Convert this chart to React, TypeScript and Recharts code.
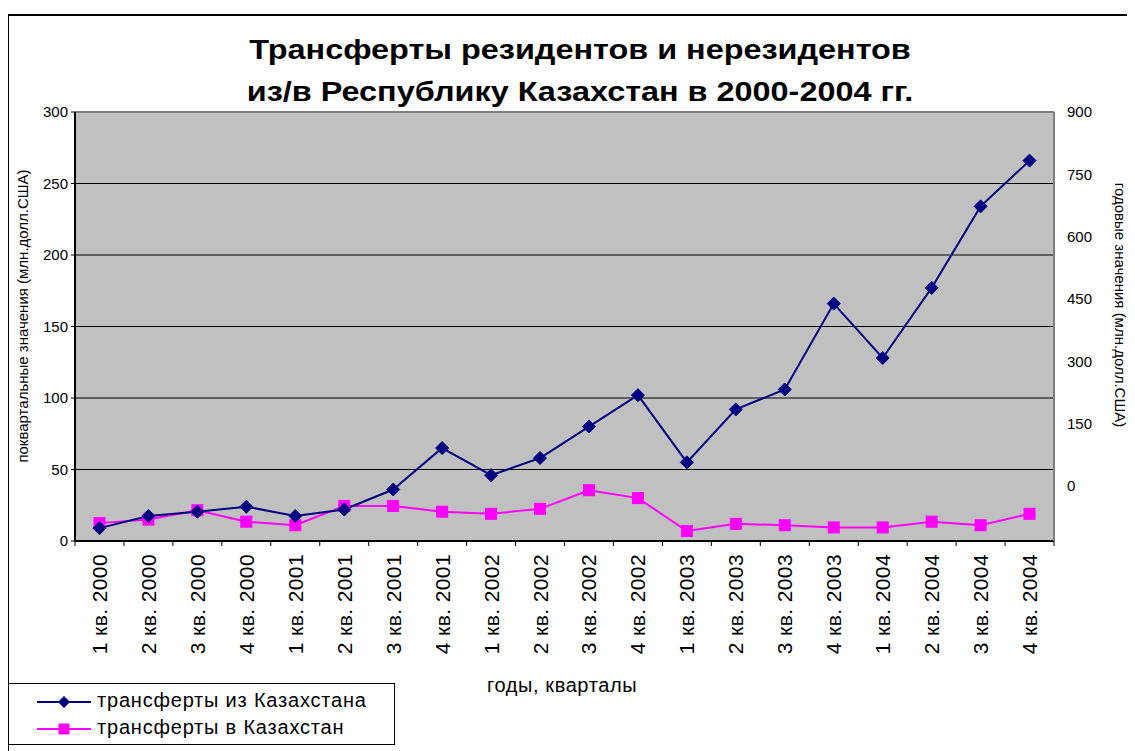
import React from 'react';
import {
  LineChart,
  Line,
  XAxis,
  YAxis,
  CartesianGrid,
  ReferenceLine,
} from 'recharts';

const quarters = [
  '1 кв. 2000', '2 кв. 2000', '3 кв. 2000', '4 кв. 2000',
  '1 кв. 2001', '2 кв. 2001', '3 кв. 2001', '4 кв. 2001',
  '1 кв. 2002', '2 кв. 2002', '3 кв. 2002', '4 кв. 2002',
  '1 кв. 2003', '2 кв. 2003', '3 кв. 2003', '4 кв. 2003',
  '1 кв. 2004', '2 кв. 2004', '3 кв. 2004', '4 кв. 2004',
];

// трансферты из Казахстана (млн.долл.США)
const transfersOut = [9, 17.5, 20.5, 24, 17.5, 22, 36, 65, 46, 58, 80, 102, 55, 92, 106, 166, 128, 177, 234, 266];
// трансферты в Казахстан (млн.долл.США)
const transfersIn = [12.5, 15, 21.5, 13.5, 11, 24.5, 24.5, 20.5, 19, 22.5, 35.5, 30, 7, 12, 11, 9.5, 9.5, 13.5, 11, 19];

const leftTicks = [0, 50, 100, 150, 200, 250, 300];
const rightTicks = [0, 150, 300, 450, 600, 750, 900];

const data = quarters.map((q, i) => ({
  q,
  out: transfersOut[i],
  in: transfersIn[i],
}));

const FONT = '"Liberation Sans", Arial, sans-serif';
const W = 1127;
const H = 743;
const PLOT_L = 67;
const PLOT_R = 1046;
const BAND = (PLOT_R - PLOT_L) / quarters.length;

function QuarterTick(props: any) {
  const { x, y, payload, index } = props;
  const left = x - BAND / 2;
  const ty = y + 13;
  return (
    <g>
      <line x1={left} x2={left} y1={y} y2={y + 5} stroke="#000" strokeWidth={1} />
      {index === quarters.length - 1 && (
        <line x1={x + BAND / 2} x2={x + BAND / 2} y1={y} y2={y + 5} stroke="#000" strokeWidth={1} />
      )}
      <text
        x={x}
        y={ty}
        transform={`rotate(-90 ${x} ${ty})`}
        textAnchor="end"
        dominantBaseline="central"
        fontSize={21}
        letterSpacing={0.4}
        fontFamily={FONT}
        fill="#000"
      >
        {payload.value}
      </text>
    </g>
  );
}

function Diamond(props: any) {
  const { cx, cy } = props;
  if (cx == null || cy == null) return null;
  const r = 6.5;
  return (
    <path
      d={`M${cx},${cy - r} L${cx + r},${cy} L${cx},${cy + r} L${cx - r},${cy} Z`}
      fill="#000080"
      stroke="#000080"
    />
  );
}

function Square(props: any) {
  const { cx, cy } = props;
  if (cx == null || cy == null) return null;
  const s = 11;
  return <rect x={cx - s / 2} y={cy - s / 2} width={s} height={s} fill="#FF00FF" stroke="#FF00FF" />;
}

function LegendSample({ color, marker }: { color: string; marker: 'diamond' | 'square' }) {
  return (
    <svg width={54} height={14} style={{ verticalAlign: 'middle' }}>
      <line x1={0} x2={54} y1={7} y2={7} stroke={color} strokeWidth={2} />
      {marker === 'diamond' ? (
        <path d="M27,1 L33,7 L27,13 L21,7 Z" fill={color} />
      ) : (
        <rect x={21.5} y={1.5} width={11} height={11} fill={color} />
      )}
    </svg>
  );
}

export default function App() {
  return (
    <div style={{ position: 'relative', width: W, height: H, overflow: 'hidden', fontFamily: FONT }}>
      <div
        style={{
          position: 'absolute',
          left: -1,
          top: 6,
          width: W + 10,
          height: H,
          borderLeft: '2px solid #000',
          borderTop: '2px solid #000',
        }}
      />
      <div
        style={{
          position: 'absolute',
          left: 572,
          top: 21,
          transform: 'translateX(-50%) scaleX(1.2)',
          whiteSpace: 'nowrap',
          textAlign: 'center',
          fontSize: 27,
          fontWeight: 'bold',
          lineHeight: '42px',
          color: '#000',
        }}
      >
        Трансферты резидентов и нерезидентов
        <br />
        из/в Республику Казахстан в 2000-2004 гг.
      </div>

      <LineChart
        width={W}
        height={H}
        data={data}
        margin={{ top: 104, right: 0, bottom: 0, left: 0 }}
        style={{ position: 'absolute', left: 0, top: 0 }}
      >
        <CartesianGrid
          yAxisId="left"
          vertical={false}
          stroke="#000"
          strokeWidth={1}
          fill="#C0C0C0"
          fillOpacity={1}
        />
        <XAxis
          dataKey="q"
          yAxisId="left"
          interval={0}
          height={210}
          padding={{ left: BAND / 2, right: BAND / 2 }}
          tickSize={0}
          tickMargin={0}
          tickLine={false}
          axisLine={{ stroke: '#000', strokeWidth: 2 }}
          tick={<QuarterTick />}
        />
        <YAxis
          yAxisId="left"
          domain={[0, 300]}
          ticks={leftTicks}
          width={PLOT_L}
          tickSize={4}
          tickMargin={3}
          axisLine={{ stroke: '#000', strokeWidth: 2 }}
          tickLine={{ stroke: '#000' }}
          tick={{ fontSize: 15, fill: '#000', fontFamily: FONT }}
        />
        <YAxis
          yAxisId="right"
          orientation="right"
          domain={[-132, 900]}
          ticks={rightTicks}
          width={W - PLOT_R}
          tickLine={false}
          tickSize={0}
          tickMargin={13}
          axisLine={{ stroke: '#808080', strokeWidth: 2 }}
          tick={{ fontSize: 15, fill: '#000', fontFamily: FONT, textAnchor: 'start' }}
          allowDataOverflow
        />
        <ReferenceLine yAxisId="left" y={300} stroke="#808080" strokeWidth={2} />
        <Line
          yAxisId="left"
          type="linear"
          dataKey="in"
          stroke="#FF00FF"
          strokeWidth={2}
          dot={(p: any) => <Square key={`in-${p.index}`} {...p} />}
          isAnimationActive={false}
        />
        <Line
          yAxisId="left"
          type="linear"
          dataKey="out"
          stroke="#000080"
          strokeWidth={2}
          dot={(p: any) => <Diamond key={`out-${p.index}`} {...p} />}
          isAnimationActive={false}
        />
      </LineChart>

      <div
        style={{
          position: 'absolute',
          left: 14,
          top: 308,
          transform: 'translate(-50%, -50%) rotate(-90deg)',
          whiteSpace: 'nowrap',
          fontSize: 15,
          color: '#000',
        }}
      >
        поквартальные значения (млн.долл.США)
      </div>
      <div
        style={{
          position: 'absolute',
          left: 1112,
          top: 297,
          transform: 'translate(-50%, -50%) rotate(90deg)',
          whiteSpace: 'nowrap',
          fontSize: 15,
          color: '#000',
        }}
      >
        годовые значения (млн.долл.США)
      </div>
      <div
        style={{
          position: 'absolute',
          left: 479,
          top: 666,
          whiteSpace: 'nowrap',
          fontSize: 20,
          letterSpacing: 0.6,
          color: '#000',
        }}
      >
        годы, кварталы
      </div>

      <div
        style={{
          position: 'absolute',
          left: 0,
          top: 675,
          width: 387,
          height: 62,
          border: '1px solid #000',
          background: '#fff',
          boxSizing: 'border-box',
          fontSize: 20,
          letterSpacing: 0.8,
          color: '#000',
        }}
      >
        <div style={{ position: 'absolute', left: 28, top: 3, whiteSpace: 'nowrap', lineHeight: '27px' }}>
          <LegendSample color="#000080" marker="diamond" />
          <span style={{ marginLeft: 6 }}>трансферты из Казахстана</span>
        </div>
        <div style={{ position: 'absolute', left: 28, top: 30, whiteSpace: 'nowrap', lineHeight: '27px' }}>
          <LegendSample color="#FF00FF" marker="square" />
          <span style={{ marginLeft: 6 }}>трансферты в Казахстан</span>
        </div>
      </div>
    </div>
  );
}
